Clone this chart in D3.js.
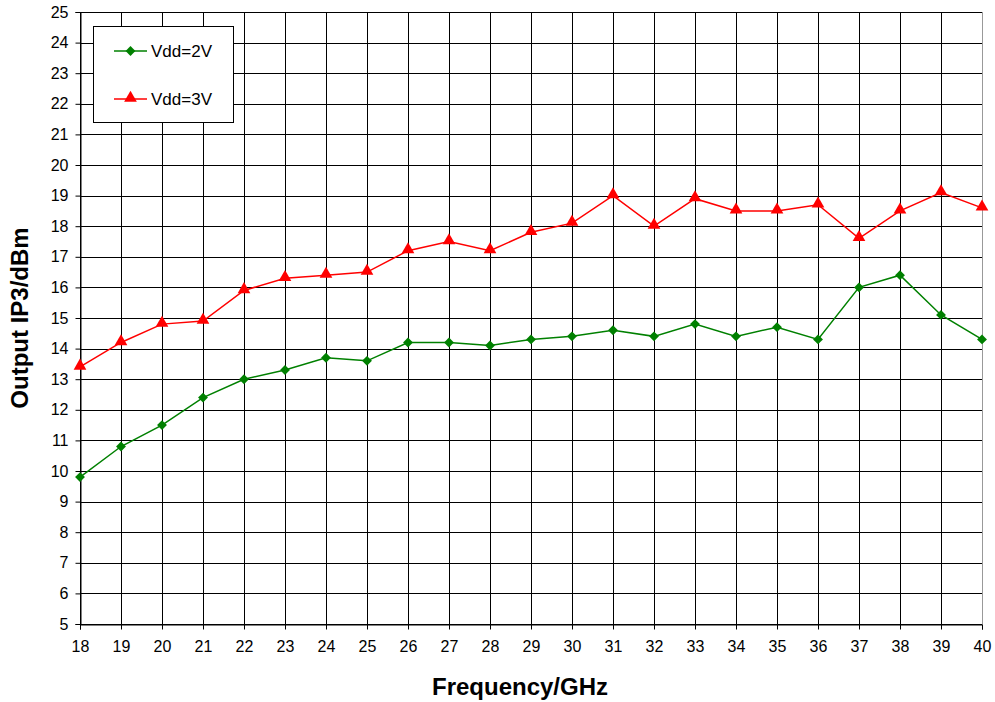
<!DOCTYPE html>
<html><head><meta charset="utf-8">
<script src="https://cdn.jsdelivr.net/npm/d3@7"></script>
<style>body{margin:0;background:#fff}svg{display:block}text{font-family:"Liberation Sans",Arial,sans-serif}</style>
</head><body>
<svg id="c" width="995" height="702"></svg>
<script>
const freqs = [18,19,20,21,22,23,24,25,26,27,28,29,30,31,32,33,34,35,36,37,38,39,40];
const vdd2 = [9.8,10.8,11.5,12.4,13.0,13.3,13.7,13.6,14.2,14.2,14.1,14.3,14.4,14.6,14.4,14.8,14.4,14.7,14.3,16.0,16.4,15.1,14.3];
const vdd3 = [13.4,14.2,14.8,14.9,15.9,16.3,16.4,16.5,17.2,17.5,17.2,17.8,18.1,19.0,18.0,18.9,18.5,18.5,18.7,17.6,18.5,19.1,18.6];
const yTicks = d3.range(5,26,1);
const seriesNames = ["Vdd=2V","Vdd=3V"];

const svg = d3.select("#c");
const L=80,R=982,T=12,B=624;
const x = d3.scaleLinear().domain([18,40]).range([L,R]);
const y = d3.scaleLinear().domain([5,25]).range([B,T]);

// grid
svg.append("g").selectAll("line").data(yTicks).join("line")
  .attr("x1",L).attr("x2",R).attr("y1",d=>Math.round(y(d))+0.5).attr("y2",d=>Math.round(y(d))+0.5)
  .attr("stroke","#000").attr("stroke-width",1);
svg.append("g").selectAll("line").data(freqs).join("line")
  .attr("y1",T).attr("y2",B).attr("x1",d=>Math.round(x(d))+0.5).attr("x2",d=>Math.round(x(d))+0.5)
  .attr("stroke","#000").attr("stroke-width",1);
svg.append("line").attr("x1",R+0.5).attr("x2",R+0.5).attr("y1",T).attr("y2",B).attr("stroke","#999");

const fontFam = "Liberation Sans, Arial, sans-serif";
// axes
const xAxis = d3.axisBottom(x).tickValues(freqs).tickFormat(d3.format("d")).tickSize(5).tickPadding(11);
const gx = svg.append("g").attr("transform",`translate(0,${Math.round(B)+0.5})`).call(xAxis);
gx.select(".domain").attr("stroke","#000");
gx.selectAll(".tick line").attr("stroke","#000");
gx.selectAll("text").attr("font-size",16).attr("fill","#000").style("font-family",fontFam);

const yAxis = d3.axisLeft(y).tickValues(yTicks).tickFormat(d3.format("d")).tickSize(5).tickPadding(7);
const gy = svg.append("g").attr("transform",`translate(${L+0.5},0)`).call(yAxis);
gy.select(".domain").attr("stroke","#000");
gy.selectAll(".tick line").attr("stroke","#000");
gy.selectAll("text").attr("font-size",16).attr("fill","#000").style("font-family",fontFam);

// lines
const line = d3.line().x((d,i)=>x(freqs[i])).y(d=>y(d));
svg.append("path").datum(vdd2).attr("d",line).attr("fill","none").attr("stroke","#008000").attr("stroke-width",1.5);
svg.append("path").datum(vdd3).attr("d",line).attr("fill","none").attr("stroke","#ff0000").attr("stroke-width",1.5);
const diamond = d3.symbol().type(d3.symbolDiamond2).size(62);
const tri = d3.symbol().type(d3.symbolTriangle).size(70);
svg.append("g").selectAll("path").data(vdd2).join("path")
  .attr("transform",(d,i)=>`translate(${x(freqs[i])},${y(d)})`).attr("d",diamond).attr("fill","#008000");
svg.append("g").selectAll("path").data(vdd3).join("path")
  .attr("transform",(d,i)=>`translate(${x(freqs[i])},${y(d)-1})`).attr("d",tri).attr("fill","#ff0000");

// legend
const lg = svg.append("g");
lg.append("rect").attr("x",93.5).attr("y",26.5).attr("width",140).attr("height",96).attr("fill","#fff").attr("stroke","#000");
const items=[{n:seriesNames[0],c:"#008000",s:diamond,yy:51,dy:0},{n:seriesNames[1],c:"#ff0000",s:tri,yy:99,dy:-1}];
items.forEach(it=>{
  lg.append("line").attr("x1",114).attr("x2",147).attr("y1",it.yy).attr("y2",it.yy).attr("stroke",it.c).attr("stroke-width",1.5);
  lg.append("path").attr("d",it.s).attr("transform",`translate(130.5,${it.yy+it.dy})`).attr("fill",it.c);
  lg.append("text").attr("x",151).attr("y",it.yy+6).attr("font-size",17).text(it.n);
});

// titles
svg.append("text").attr("x",520).attr("y",695).attr("text-anchor","middle").attr("font-size",24).attr("font-weight","bold").text("Frequency/GHz");
svg.append("text").attr("transform","translate(28,318) rotate(-90)").attr("text-anchor","middle").attr("font-size",24).attr("font-weight","bold").text("Output IP3/dBm");
</script>
</body></html>
